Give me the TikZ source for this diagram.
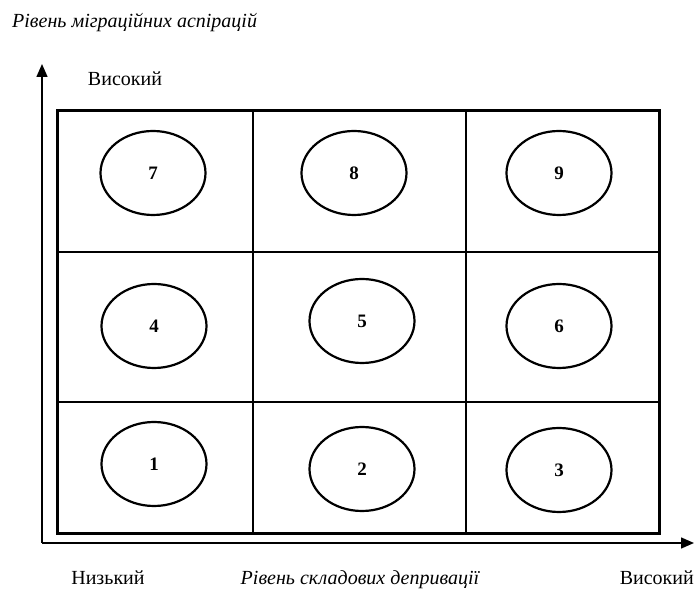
\documentclass[tikz,border=0pt]{standalone}
\usepackage{fontspec}
\setmainfont{Liberation Serif}
\usetikzlibrary{arrows.meta,shapes.geometric}

\tikzset{
  cell/.style={draw, ellipse, line width=2.2pt, minimum width=105pt, minimum height=84pt, inner sep=0pt, font=\fontsize{19}{19}\selectfont\bfseries},
  axis/.style={line width=1.4pt, -{Triangle[length=13pt,width=11pt]}},
  lbl/.style={font=\fontsize{20}{20}\selectfont},
  ttl/.style={font=\fontsize{20}{20}\selectfont\itshape}
}

\begin{document}
\begin{tikzpicture}[x=1pt, y=-1pt]
    \useasboundingbox (0,0) rectangle (694,593);

    % axes
    \coordinate (origin) at (42,543);
    \coordinate (ytip) at (42,64);
    \coordinate (xtip) at (694,543);
    \draw[axis] (origin) -- (ytip);
    \draw[axis] (origin) -- (xtip);

    % grid
    \draw[line width=1.4pt] (253,111) -- (253,534);
    \draw[line width=1.4pt] (466,111) -- (466,534);
    \draw[line width=1.4pt] (57,252) -- (659,252);
    \draw[line width=1.4pt] (57,402) -- (659,402);
    \draw[line width=3pt] (57,111) rectangle (659,534);

    % cells
    \foreach \n/\x/\y in {7/153/173, 8/354/173, 9/559/173,
                          4/154/326, 5/362/321, 6/559/326,
                          1/154/464, 2/362/469, 3/559/470}
        \node[cell] (e\n) at (\x,\y) {\n};

    % labels
    \node[ttl, anchor=west, inner sep=0pt] (ytitle) at (12,23) {Рівень міграційних аспірацій};
    \node[lbl] (yhigh) at (125,79) {Високий};
    \node[lbl] (xlow) at (108,578) {Низький};
    \node[ttl] (xtitle) at (360,580) {Рівень складових депривації};
    \node[lbl, anchor=east, inner sep=0pt] (xhigh) at (694,578) {Високий};
\end{tikzpicture}
\end{document}
